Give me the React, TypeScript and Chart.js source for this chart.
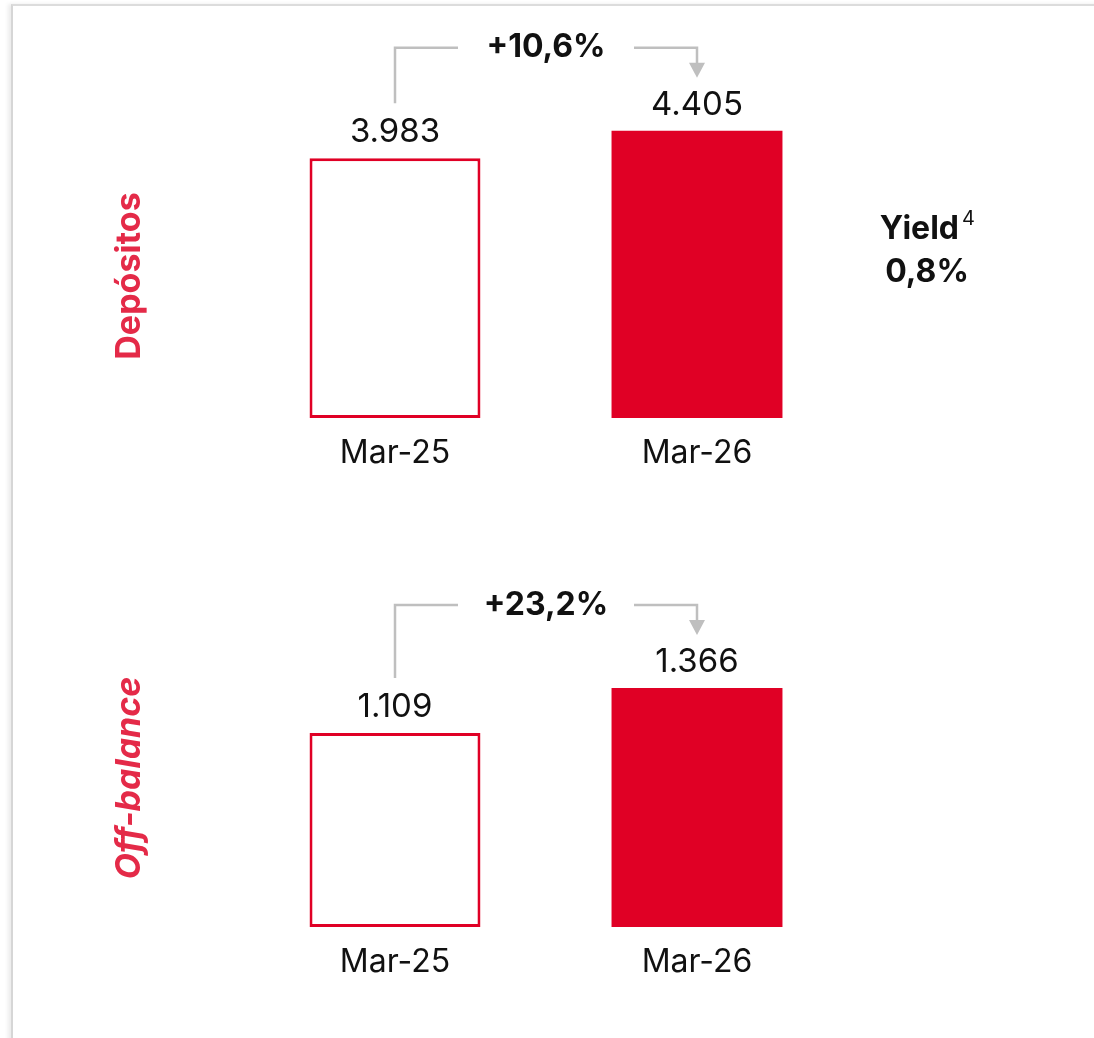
import React, { useEffect, useRef } from "react";
import { Chart, registerables } from "chart.js";

Chart.register(...registerables);

// ---- data ----
const categories = ["Mar-25", "Mar-26"];
const depositosValues = [3983, 4405];
const offBalanceValues = [1109, 1366];
const depositosGrowth = "+10,6%";
const offBalanceGrowth = "+23,2%";
const panelTitles = ["Depósitos", "Off-balance"];
const yieldLabel = "Yield";
const yieldNote = "4";
const yieldValue = "0,8%";

const RED = "#e00025";
const TITLE_RED = "#e42a48";
const GREY = "#bfbfbf";
const FONT = "Inter, 'Liberation Sans', Arial, sans-serif";

function fmt(v: number): string {
  return String(v).replace(/\B(?=(\d{3})+(?!\d))/g, ".");
}

type PanelProps = {
  values: number[];
  growth: string;
  title: string;
  italic: boolean;
  yMax: number;
  padTop: number;
  axisHeight: number;
  titleY: number;
  showYield: boolean;
};

function Panel(props: PanelProps) {
  const ref = useRef<HTMLCanvasElement | null>(null);
  useEffect(() => {
    if (!ref.current) return;
    const annot = {
      id: "annot",
      afterDatasetsDraw(chart: any) {
        const ctx = chart.ctx as CanvasRenderingContext2D;
        const meta = chart.getDatasetMeta(0);
        const bars = meta.data;
        ctx.save();
        // value labels
        ctx.fillStyle = "#111";
        ctx.font = `400 33px ${FONT}`;
        ctx.textAlign = "center";
        ctx.textBaseline = "middle";
        const centers: number[] = [];
        bars.forEach((b: any, i: number) => {
          const cy = b.y - 26;
          centers.push(cy);
          ctx.fillText(fmt(props.values[i]), b.x, cy);
        });
        // bracket arrow
        const x0 = bars[0].x;
        const x1 = bars[1].x;
        const hy = Math.min(centers[0], centers[1]) - 57;
        const y0 = centers[0] - 29;
        const tip = centers[1] - 27;
        const mid = (x0 + x1) / 2;
        const gap = 88;
        ctx.strokeStyle = GREY;
        ctx.lineWidth = 2.5;
        ctx.beginPath();
        ctx.moveTo(x0, y0);
        ctx.lineTo(x0, hy);
        ctx.lineTo(mid - gap, hy);
        ctx.moveTo(mid + gap, hy);
        ctx.lineTo(x1, hy);
        ctx.lineTo(x1, tip - 14);
        ctx.stroke();
        ctx.fillStyle = GREY;
        ctx.beginPath();
        ctx.moveTo(x1 - 8, tip - 15);
        ctx.lineTo(x1 + 8, tip - 15);
        ctx.lineTo(x1, tip);
        ctx.closePath();
        ctx.fill();
        ctx.fillStyle = "#111";
        ctx.font = `700 32px ${FONT}`;
        ctx.fillText(props.growth, mid, hy);
        // side title
        ctx.save();
        ctx.translate(130, props.titleY);
        ctx.rotate(-Math.PI / 2);
        ctx.fillStyle = TITLE_RED;
        ctx.font = `${props.italic ? "italic " : ""}700 34px ${FONT}`;
        ctx.fillText(props.title, 0, 0);
        ctx.restore();
        // yield
        if (props.showYield) {
          ctx.fillStyle = "#111";
          ctx.font = `700 32px ${FONT}`;
          ctx.textAlign = "right";
          ctx.fillText(yieldLabel, 959, 229);
          ctx.font = `400 20px ${FONT}`;
          ctx.textAlign = "left";
          ctx.fillText(yieldNote, 962, 219);
          ctx.font = `700 32px ${FONT}`;
          ctx.textAlign = "center";
          ctx.fillText(yieldValue, 927, 272);
        }
        ctx.restore();
      },
    };
    const chart = new Chart(ref.current, {
      type: "bar",
      data: {
        labels: categories,
        datasets: [
          {
            data: props.values,
            backgroundColor: ["#ffffff", RED],
            borderColor: RED,
            borderWidth: [3, 0],
            borderSkipped: false,
            barPercentage: 1,
            categoryPercentage: 0.566,
          },
        ],
      },
      options: {
        animation: false,
        responsive: false,
        devicePixelRatio: 1,
        layout: { padding: { left: 244, right: 246, top: props.padTop, bottom: 0 } },
        plugins: { legend: { display: false }, tooltip: { enabled: false } },
        scales: {
          y: { display: false, min: 0, max: props.yMax },
          x: {
            grid: { display: false, drawTicks: false },
            border: { display: false },
            ticks: { color: "#111", font: { family: FONT, size: 32 }, padding: 16 },
            afterFit: (scale: any) => {
              scale.height = props.axisHeight;
            },
          },
        },
      },
      plugins: [annot],
    });
    return () => chart.destroy();
  }, []);
  return <canvas ref={ref} width={1094} height={519} style={{ display: "block", width: 1094, height: 519 }} />;
}

export default function App() {
  return (
    <div style={{ position: "absolute", left: 0, top: 0, width: 1094, height: 1038, background: "#fff", overflow: "hidden" }}>
      <div
        style={{
          position: "absolute",
          left: 11,
          top: 4,
          width: 1100,
          height: 1100,
          borderTop: "2px solid #dcdcdc",
          borderLeft: "2px solid #d6d6d6",
          boxShadow: "-3px 0 4px rgba(0,0,0,0.08)",
        }}
      />
      <div style={{ position: "absolute", left: 0, top: 0 }}>
        <Panel
          values={depositosValues}
          growth={depositosGrowth}
          title={panelTitles[0]}
          italic={false}
          yMax={5000}
          padTop={92}
          axisHeight={101}
          titleY={276}
          showYield={true}
        />
      </div>
      <div style={{ position: "absolute", left: 0, top: 519 }}>
        <Panel
          values={offBalanceValues}
          growth={offBalanceGrowth}
          title={panelTitles[1]}
          italic={true}
          yMax={2000}
          padTop={58}
          axisHeight={111}
          titleY={259}
          showYield={false}
        />
      </div>
    </div>
  );
}
